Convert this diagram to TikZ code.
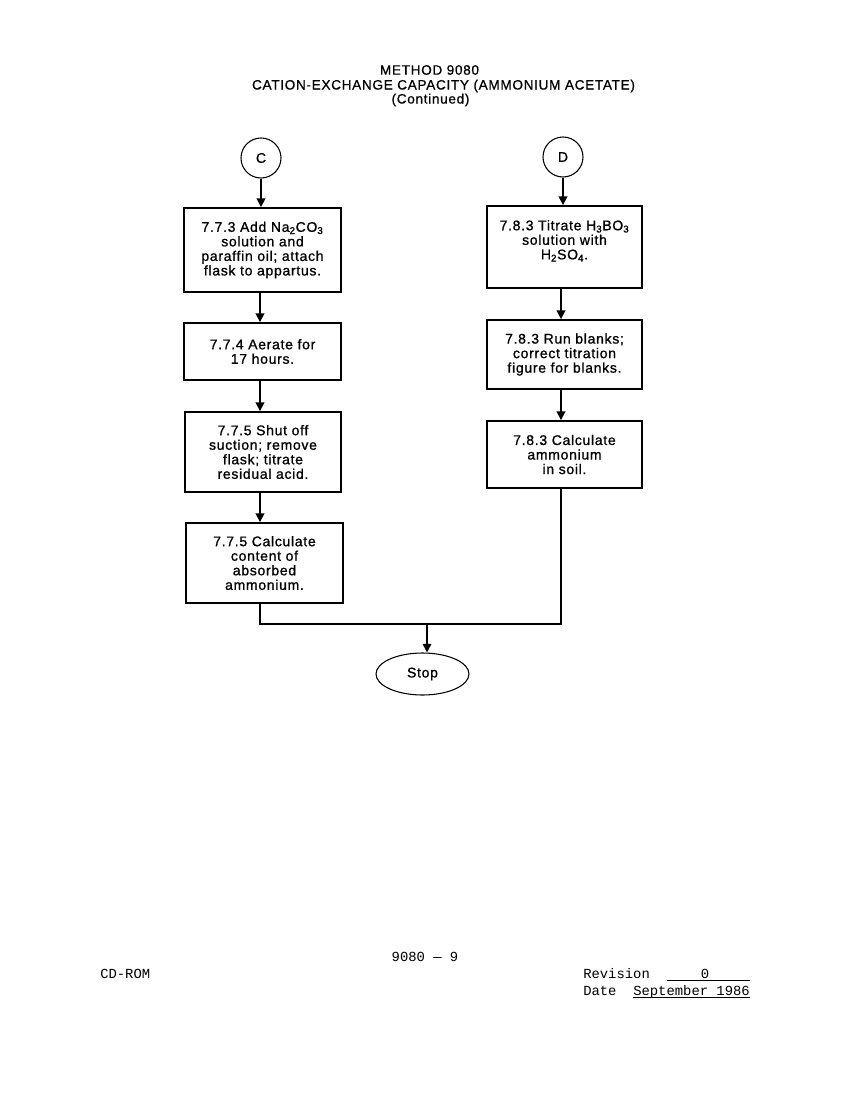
\documentclass[tikz,border=0pt]{standalone}
\usepackage{fontspec}
\setmainfont{Liberation Sans}
\newfontfamily\titlefont[LetterSpace=5,FakeBold=0.8]{Liberation Sans}
\newfontfamily\boxfont[LetterSpace=5,FakeBold=1]{Liberation Sans}
\newfontfamily\footfont{Liberation Mono}
\usetikzlibrary{arrows.meta,shapes.geometric}
\begin{document}
\begin{tikzpicture}[x=0.75pt,y=-0.75pt,
  box/.style={draw,line width=1.4pt,inner sep=0pt,align=center,
    font=\boxfont\fontsize{10.5}{10.9}\selectfont},
  conn/.style={line width=1.2pt},
  arr/.style={conn,-{Triangle[length=6.5pt,width=6.5pt]}},
  connector/.style={draw,circle,line width=0.8pt,minimum size=30pt,inner sep=0pt,
    font=\boxfont\fontsize{10.5}{12}\selectfont},
  term/.style={draw,ellipse,line width=0.8pt,minimum width=69.75pt,minimum height=31.5pt,
    inner sep=0pt,font=\boxfont\fontsize{10.5}{12}\selectfont},
  ttl/.style={inner sep=0pt,font=\titlefont\fontsize{10.2}{11}\selectfont},
  foot/.style={inner sep=0pt,font=\footfont\fontsize{10.4}{12}\selectfont}]
\useasboundingbox (0,0) rectangle (850,1100);

% title
\node[ttl] (t1) at (429.5,70) {METHOD 9080};
\node[ttl] (t2) at (443.5,86) {CATION-EXCHANGE CAPACITY (AMMONIUM ACETATE)};
\node[ttl] (t3) at (430.5,100) {(Continued)};

% column guides
\coordinate (lc) at (260,0);
\coordinate (rc) at (561,0);

% left column
\node[connector] (c) at (261,158) {C};
\node[box,minimum width=117.75pt,minimum height=63pt] (b1) at (262.5,250)
  {7.7.3 Add Na\textsubscript{2}CO\textsubscript{3}\\solution and\\paraffin oil; attach\\flask to appartus.};
\node[box,minimum width=117.75pt,minimum height=42.75pt] (b2) at (262.5,351.5)
  {7.7.4 Aerate for\\17 hours.};
\node[box,minimum width=117pt,minimum height=60pt] (b3) at (263,452)
  {7.7.5 Shut off\\suction; remove\\flask; titrate\\residual acid.};
\node[box,minimum width=117.75pt,minimum height=60pt] (b4) at (264.5,563)
  {7.7.5 Calculate\\content of\\absorbed\\ammonium.};

% right column
\node[connector] (d) at (563,157) {D};
\node[box,minimum width=116.25pt,minimum height=61.5pt] (d1) at (564.5,247)
  {7.8.3 Titrate H\textsubscript{3}BO\textsubscript{3}\\solution with\\H\textsubscript{2}SO\textsubscript{4}.\\~};
\node[box,minimum width=116.25pt,minimum height=51.75pt] (d2) at (564.5,354.5)
  {7.8.3 Run blanks;\\correct titration\\figure for blanks.};
\node[box,minimum width=116.25pt,minimum height=50.25pt] (d3) at (564.5,454.5)
  {7.8.3 Calculate\\ammonium\\in soil.};

% stop
\coordinate (j) at (427,624);
\node[term] (stop) at (422.5,674) {Stop};

% connectors
\draw[arr] (c) -- (c |- b1.north);
\draw[arr] (b1.south -| lc) -- (b2.north -| lc);
\draw[arr] (b2.south -| lc) -- (b3.north -| lc);
\draw[arr] (b3.south -| lc) -- (b4.north -| lc);
\draw[arr] (d) -- (d |- d1.north);
\draw[arr] (d1.south -| rc) -- (d2.north -| rc);
\draw[arr] (d2.south -| rc) -- (d3.north -| rc);
\draw[conn] (b4.south -| lc) |- (j) -| (d3.south -| rc);
\draw[arr] (j) -- (j |- stop.north);

% footer
\node[foot,anchor=base] (pg) at (425,961.5) {9080 — 9};
\node[foot,anchor=base west] (cd) at (100,978.5) {CD-ROM};
\node[foot,anchor=base west] (rev) at (583,978.5) {Revision};
\node[foot,anchor=base] (revn) at (705,978.5) {0};
\draw[line width=0.6pt] (667,980.5) -- (750,980.5);
\node[foot,anchor=base west] (dt) at (583,995.5) {Date};
\node[foot,anchor=base west] (dtv) at (633,995.5) {September 1986};
\draw[line width=0.6pt] (633,997.5) -- (750,997.5);
\end{tikzpicture}
\end{document}
